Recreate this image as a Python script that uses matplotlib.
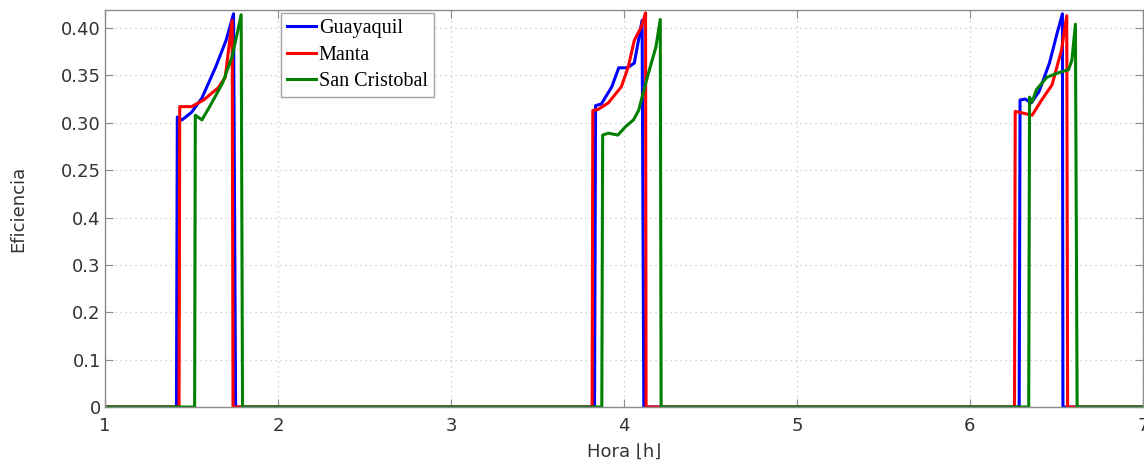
import matplotlib
matplotlib.use("Agg")
import matplotlib.pyplot as plt

# Data (hora, eficiencia)
guayaquil_x = [1.0, 1.413, 1.418, 1.445, 1.50, 1.56, 1.64, 1.70, 1.743, 1.755, 1.76, 3.83, 3.836,
               3.87, 3.93, 3.97, 4.02, 4.06, 4.105, 4.115, 4.12, 6.285, 6.29, 6.32, 6.355, 6.40,
               6.46, 6.505, 6.535, 6.538, 7.0]
guayaquil_y = [0.0, 0.0, 0.306, 0.303, 0.311, 0.326, 0.359, 0.387, 0.415, 0.0, 0.0, 0.0, 0.318,
               0.320, 0.338, 0.358, 0.358, 0.363, 0.408, 0.0, 0.0, 0.0, 0.324, 0.325, 0.321, 0.333,
               0.363, 0.395, 0.415, 0.0, 0.0]

manta_x = [1.0, 1.428, 1.432, 1.50, 1.57, 1.655, 1.695, 1.735, 1.74, 1.745, 3.816, 3.82, 3.85, 3.91,
           3.985, 4.025, 4.06, 4.10, 4.125, 4.128, 6.258, 6.262, 6.31, 6.36, 6.415, 6.475, 6.53,
           6.56, 6.565, 7.0]
manta_y = [0.0, 0.0, 0.317, 0.317, 0.324, 0.337, 0.348, 0.408, 0.0, 0.0, 0.0, 0.313, 0.314, 0.321,
           0.338, 0.359, 0.387, 0.401, 0.416, 0.0, 0.0, 0.312, 0.310, 0.308, 0.324, 0.340, 0.377,
           0.413, 0.0, 0.0]

sancristobal_x = [1.0, 1.518, 1.522, 1.56, 1.605, 1.68, 1.735, 1.765, 1.787, 1.795, 3.872, 3.877,
                  3.91, 3.965, 4.01, 4.055, 4.085, 4.135, 4.185, 4.21, 4.215, 6.34, 6.345, 6.36,
                  6.385, 6.445, 6.50, 6.57, 6.59, 6.61, 6.62, 7.0]
sancristobal_y = [0.0, 0.0, 0.308, 0.303, 0.317, 0.342, 0.370, 0.395, 0.414, 0.0, 0.0, 0.287,
                  0.289, 0.287, 0.296, 0.303, 0.313, 0.348, 0.380, 0.409, 0.0, 0.0, 0.327, 0.322,
                  0.335, 0.348, 0.352, 0.356, 0.366, 0.404, 0.0, 0.0]

series_names = ["Guayaquil", "Manta", "San Cristobal"]
series_colors = ["#0000ff", "#ff0000", "#008000"]

x_ticks = [1, 2, 3, 4, 5, 6, 7]
y_ticks = [0.0, 0.05, 0.10, 0.15, 0.20, 0.25, 0.30, 0.35, 0.40]
y_tick_labels = ["0", "0.1", "0.2", "0.3", "0.4", "0.25", "0.30", "0.35", "0.40"]

fig = plt.figure(figsize=(11.44, 4.65), dpi=100)
ax = fig.add_axes([0.0918, 0.1247, 0.9072, 0.8538])

for xs, ys, name, c in zip([guayaquil_x, manta_x, sancristobal_x],
                           [guayaquil_y, manta_y, sancristobal_y],
                           series_names, series_colors):
    ax.plot(xs, ys, color=c, lw=2.2, label=name, solid_joinstyle="round")

ax.set_xlim(1, 7)
ax.set_ylim(0, 0.419)
ax.set_xticks(x_ticks)
ax.set_xticklabels([str(t) for t in x_ticks])
ax.set_yticks(y_ticks)
ax.set_yticklabels(y_tick_labels)

ax.grid(True, linestyle=(0, (1, 3)), color="#c4c4c4", linewidth=0.9)
for sp in ax.spines.values():
    sp.set_color("#8c8c8c")
    sp.set_linewidth(1.0)
ax.tick_params(direction="in", top=True, right=True, length=6, color="#8c8c8c",
               labelsize=13, labelcolor="#333333", pad=3)
ax.tick_params(axis="x", pad=7)

ax.set_xlabel("Hora ⌊h⌋", fontsize=13, color="#333333", labelpad=6)
ax.set_ylabel("Eficiencia", fontsize=13, color="#333333", labelpad=24)

leg = ax.legend(loc="upper left", bbox_to_anchor=(0.170, 0.993), frameon=True, fancybox=False,
                prop={"family": "Liberation Serif", "size": 14.5}, borderpad=0.3,
                labelspacing=0.38, handlelength=1.4, handletextpad=0.15, borderaxespad=0)
leg.get_frame().set_edgecolor("#8c8c8c")
leg.get_frame().set_linewidth(1.0)

fig.savefig("out.png", dpi=100)
